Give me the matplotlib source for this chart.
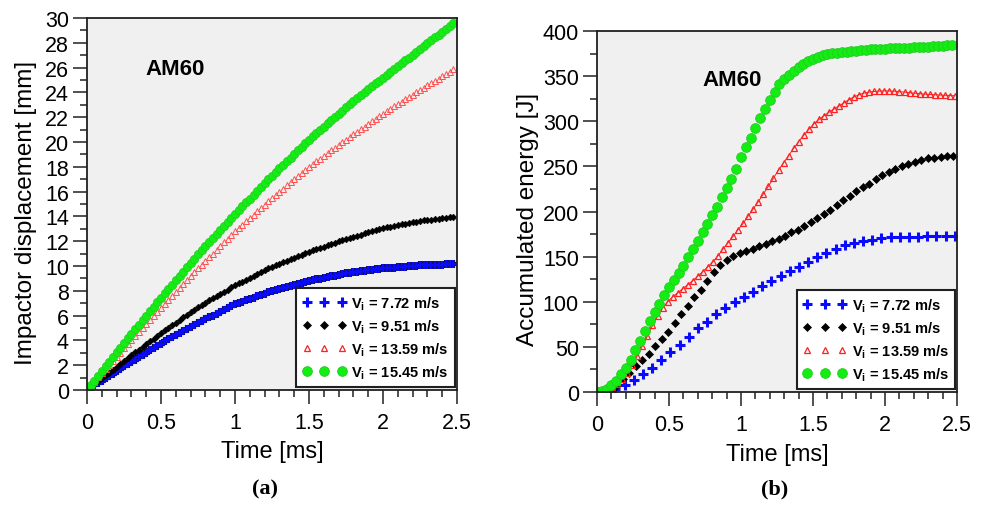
import numpy as np
import matplotlib
matplotlib.use("Agg")
import matplotlib.pyplot as plt
from matplotlib.ticker import MultipleLocator
from matplotlib.lines import Line2D

plt.rcParams['font.family'] = ['Liberation Sans', 'DejaVu Sans']
plt.rcParams['mathtext.fontset'] = 'custom'
plt.rcParams['mathtext.rm'] = 'Liberation Sans'
plt.rcParams['mathtext.bf'] = 'Liberation Sans:bold'

# (a) impactor displacement [mm], sampled every 0.025 ms from t = 0
dt_disp = 0.025
disp_772 = [0.00, 0.19, 0.38, 0.57, 0.76, 0.95, 1.14, 1.33, 1.52, 1.71, 1.90,
            2.09, 2.27, 2.46, 2.64, 2.83, 3.01, 3.20, 3.38, 3.57, 3.75,
            3.92, 4.08, 4.25, 4.41, 4.58, 4.74, 4.91, 5.07, 5.24, 5.40,
            5.55, 5.70, 5.85, 6.00, 6.15, 6.30, 6.45, 6.60, 6.75, 6.90,
            7.01, 7.12, 7.23, 7.34, 7.45, 7.56, 7.67, 7.78, 7.89, 8.00,
            8.08, 8.16, 8.24, 8.32, 8.40, 8.48, 8.56, 8.64, 8.72, 8.80,
            8.86, 8.92, 8.98, 9.04, 9.10, 9.16, 9.22, 9.28, 9.34, 9.40,
            9.44, 9.48, 9.52, 9.56, 9.60, 9.64, 9.68, 9.72, 9.76, 9.80,
            9.83, 9.85, 9.88, 9.90, 9.93, 9.95, 9.98, 10.00, 10.03, 10.05,
            10.06, 10.07, 10.08, 10.09, 10.10, 10.12, 10.13, 10.14, 10.15]
disp_951 = [0.00, 0.24, 0.47, 0.71, 0.94, 1.18, 1.41, 1.65, 1.88, 2.12, 2.35,
            2.58, 2.80, 3.03, 3.25, 3.48, 3.70, 3.93, 4.15, 4.38, 4.60,
            4.81, 5.02, 5.23, 5.44, 5.65, 5.86, 6.07, 6.28, 6.49, 6.70,
            6.88, 7.05, 7.23, 7.40, 7.58, 7.75, 7.93, 8.10, 8.28, 8.45,
            8.60, 8.75, 8.90, 9.05, 9.20, 9.35, 9.50, 9.65, 9.80, 9.95,
            10.07, 10.19, 10.31, 10.43, 10.55, 10.67, 10.79, 10.91, 11.03, 11.15,
            11.26, 11.36, 11.47, 11.57, 11.68, 11.78, 11.89, 11.99, 12.10, 12.20,
            12.29, 12.37, 12.46, 12.54, 12.63, 12.71, 12.80, 12.88, 12.97, 13.05,
            13.11, 13.17, 13.23, 13.29, 13.35, 13.41, 13.47, 13.53, 13.59, 13.65,
            13.68, 13.72, 13.75, 13.78, 13.82, 13.85, 13.88, 13.92, 13.95]
disp_1359 = [0.00, 0.34, 0.67, 1.01, 1.34, 1.68, 2.01, 2.35, 2.68, 3.02, 3.35,
             3.68, 4.01, 4.34, 4.67, 5.00, 5.33, 5.66, 5.99, 6.32, 6.65,
             6.97, 7.28, 7.60, 7.91, 8.23, 8.54, 8.86, 9.17, 9.49, 9.80,
             10.10, 10.40, 10.70, 11.00, 11.30, 11.60, 11.90, 12.20, 12.50, 12.80,
             13.07, 13.34, 13.61, 13.88, 14.15, 14.42, 14.69, 14.96, 15.23, 15.50,
             15.75, 16.00, 16.25, 16.50, 16.75, 17.00, 17.25, 17.50, 17.75, 18.00,
             18.22, 18.44, 18.66, 18.88, 19.10, 19.32, 19.54, 19.76, 19.98, 20.20,
             20.41, 20.62, 20.83, 21.04, 21.25, 21.46, 21.67, 21.88, 22.09, 22.30,
             22.49, 22.68, 22.87, 23.06, 23.25, 23.44, 23.63, 23.82, 24.01, 24.20,
             24.38, 24.57, 24.75, 24.93, 25.12, 25.30, 25.48, 25.67, 25.85]
disp_1545 = [0.00, 0.38, 0.76, 1.14, 1.52, 1.90, 2.28, 2.66, 3.04, 3.42, 3.80,
             4.17, 4.53, 4.90, 5.26, 5.63, 5.99, 6.36, 6.72, 7.09, 7.45,
             7.80, 8.15, 8.50, 8.85, 9.20, 9.55, 9.90, 10.25, 10.60, 10.95,
             11.28, 11.60, 11.93, 12.25, 12.58, 12.90, 13.23, 13.55, 13.88, 14.20,
             14.51, 14.82, 15.13, 15.44, 15.75, 16.06, 16.37, 16.68, 16.99, 17.30,
             17.59, 17.88, 18.17, 18.46, 18.75, 19.04, 19.33, 19.62, 19.91, 20.20,
             20.46, 20.72, 20.98, 21.24, 21.50, 21.76, 22.02, 22.28, 22.54, 22.80,
             23.04, 23.28, 23.52, 23.76, 24.00, 24.24, 24.48, 24.72, 24.96, 25.20,
             25.43, 25.66, 25.89, 26.12, 26.35, 26.58, 26.81, 27.04, 27.27, 27.50,
             27.73, 27.97, 28.20, 28.43, 28.67, 28.90, 29.13, 29.37, 29.60]

# (b) accumulated energy [J], each series with its own sampling step [ms]
dt_e772 = 0.0637
energy_772 = [0, 0, 3, 7.5, 13, 20, 27, 35.8, 44, 52,
              61.3, 70.8, 78.1, 86.5, 93, 99.5, 105.8, 111.3, 117.4, 122.5,
              128.1, 133.6, 138.4, 143.8, 149.5, 154, 158.7, 162.4, 165, 167.2,
              168.8, 170.5, 171.3, 171.7, 172, 172.1, 172.4, 172.5, 172.5, 172.5]
dt_e951 = 0.045
energy_951 = [0, 0, 2, 7, 14, 21, 28.5, 35, 42.5, 50.5,
              58.5, 67, 76.5, 86, 95.5, 105, 113.5, 123, 132.5, 140.5,
              146.5, 150.5, 153.5, 156.5, 159, 161.8, 164.5, 167.2, 170, 173.3,
              176.8, 179.8, 183.5, 188.2, 192.6, 197.2, 202.2, 207, 212.4, 217.7,
              222.4, 226.7, 231, 235.7, 240.1, 243.8, 247.5, 250.5, 253, 255.3,
              257.3, 258.8, 259.8, 260.5, 261, 261.2]
dt_e1359 = 0.035
energy_1359 = [0, 0.5, 2, 5, 9, 14, 21, 30, 40, 51,
               62, 74, 84, 93, 100, 105.5, 110, 114.5, 119, 123.5,
               128.5, 133.5, 139, 144.5, 151, 158.5, 165.5, 172.5, 180, 187,
               195, 203, 211, 219.5, 228, 237, 246, 254, 262, 270,
               277.5, 284.5, 291, 297, 302, 306, 310, 313.5, 317, 320.5,
               324, 327, 329.5, 331.3, 332.4, 333.1, 333.5, 333.7, 333.6, 333.3,
               332.8, 332.3, 331.7, 331.1, 330.6, 330.1, 329.7, 329.4, 329.1, 328.8,
               328.5, 328.3]
dt_e1545 = 1.0 / 30
energy_1545 = [0, 0.8, 3.4, 7.4, 12.3, 19.5, 26.5, 35.5, 46, 56.5,
               67.5, 79, 88.5, 97.5, 107.5, 116, 124, 132, 140, 150,
               158.5, 167.5, 177, 186, 196, 205.5, 216, 226, 236, 247,
               260, 271, 282, 293, 304, 314, 324, 332.5, 341, 346.5,
               351.5, 356, 360, 363.5, 366.5, 369, 371.3, 373, 374.2, 375.1,
               375.8, 376.5, 377.1, 377.6, 378.1, 378.6, 379.1, 379.6, 380, 380.3,
               380.5, 380.7, 380.9, 381.1, 381.3, 381.6, 381.9, 382.2, 382.5, 382.8,
               383.1, 383.4, 383.8, 384.2, 384.7]

labels = [r'V$_\mathbf{i}$ = 7.72 m/s', r'V$_\mathbf{i}$ = 9.51 m/s',
          r'V$_\mathbf{i}$ = 13.59 m/s', r'V$_\mathbf{i}$ = 15.45 m/s']

BLUE = '#0a0aff'
NAVY = '#101070'
GREEN = '#12ee12'
GREEN_EDGE = '#28c828'
RED = '#ff2020'
BG = '#f0f0f0'


def t_of(vals, dt):
    return np.arange(len(vals)) * dt


def style_axes(ax, ymax, ymajor, yminor):
    ax.set_facecolor(BG)
    ax.set_xlim(0, 2.5)
    ax.set_ylim(0, ymax)
    ax.xaxis.set_major_locator(MultipleLocator(0.5))
    ax.xaxis.set_minor_locator(MultipleLocator(0.1))
    ax.yaxis.set_major_locator(MultipleLocator(ymajor))
    ax.yaxis.set_minor_locator(MultipleLocator(yminor))
    ax.tick_params(which='both', direction='out', top=False, right=False, width=1.1, color='#202020')
    ax.tick_params(which='major', length=10, labelsize=15.5)
    ax.tick_params(axis='x', which='major', pad=6)
    ax.tick_params(axis='y', which='major', pad=3)
    ax.tick_params(which='minor', length=5)
    for s in ax.spines.values():
        s.set_linewidth(1.3)
        s.set_color('#202020')
    ax.xaxis.set_major_formatter(plt.FuncFormatter(lambda v, p: '%g' % v))


def legend_handles():
    return [
        Line2D([], [], ls='none', marker='+', ms=7, mew=2.2, color=BLUE),
        Line2D([], [], ls='none', marker='D', ms=4.2, mew=0.5, color='black'),
        Line2D([], [], ls='none', marker='^', ms=5, mew=0.9, mfc='none', mec=RED),
        Line2D([], [], ls='none', marker='o', ms=7, mew=0.6, mfc=GREEN, mec=GREEN_EDGE),
    ]


def add_legend(ax):
    leg = ax.legend(legend_handles(), labels, loc='lower right', bbox_to_anchor=(0.994, 0.008),
                    borderaxespad=0, numpoints=3, handlelength=3.0, handletextpad=0.35,
                    borderpad=0.42, labelspacing=0.36, fancybox=False, framealpha=1,
                    edgecolor='#202020', prop={'weight': 'bold', 'size': 10.5})
    leg.get_frame().set_linewidth(1.5)


fig = plt.figure(figsize=(9.88, 5.10), dpi=100)
ax1 = fig.add_axes([0.0881, 0.2333, 0.3745, 0.7294])
ax2 = fig.add_axes([0.6043, 0.2294, 0.3644, 0.7078])

# panel (a)
t772 = t_of(disp_772, dt_disp)
ax1.plot(t772, disp_772, ls='none', marker='+', ms=6.4, mew=3.0, color=NAVY)
ax1.plot(t772, disp_772, ls='none', marker='+', ms=5.6, mew=1.5, color=BLUE)
ax1.plot(t_of(disp_951, dt_disp), disp_951, ls='none', marker='D', ms=3.4, mew=0.4, color='black')
ax1.plot(t_of(disp_1359, dt_disp), disp_1359, ls='none', marker='^', ms=4.6, mew=0.7, mfc='none', mec='#ff5050')
ax1.plot(t_of(disp_1545, dt_disp), disp_1545, ls='none', marker='o', ms=6, mew=0.5, mfc=GREEN, mec=GREEN_EDGE)
style_axes(ax1, 30, 2, 1)
ax1.set_xlabel('Time [ms]', fontsize=17)
ax1.set_ylabel('Impactor displacement [mm]', fontsize=17.5)
ax1.xaxis.set_label_coords(0.5, -0.135)
ax1.yaxis.set_label_coords(-0.135, 0.48)
ax1.text(0.395, 25.9, 'AM60', fontsize=16, fontweight='bold', va='center', ha='left')
add_legend(ax1)

# panel (b)
ax2.plot(t_of(energy_772, dt_e772), energy_772, ls='none', marker='+', ms=7, mew=2.2, color=BLUE)
ax2.plot(t_of(energy_951, dt_e951), energy_951, ls='none', marker='D', ms=4.2, mew=0.5, color='black')
ax2.plot(t_of(energy_1359, dt_e1359), energy_1359, ls='-', lw=0.7, marker='^', ms=5, mew=0.9,
         mfc='none', mec=RED, color=RED)
ax2.plot(t_of(energy_1545, dt_e1545), energy_1545, ls='none', marker='o', ms=7, mew=0.6, mfc=GREEN, mec=GREEN_EDGE)
style_axes(ax2, 400, 50, 25)
ax2.set_xlabel('Time [ms]', fontsize=17)
ax2.set_ylabel('Accumulated energy [J]', fontsize=17.5)
ax2.xaxis.set_label_coords(0.5, -0.14)
ax2.yaxis.set_label_coords(-0.16, 0.48)
ax2.text(0.734, 346.8, 'AM60', fontsize=16, fontweight='bold', va='center', ha='left')
add_legend(ax2)

fig.text(265 / 988, 0.04, '(a)', fontsize=16, fontweight='bold', family=['Liberation Serif', 'DejaVu Serif'],
         ha='center', va='center')
fig.text(775 / 988, 0.04, '(b)', fontsize=16, fontweight='bold', family=['Liberation Serif', 'DejaVu Serif'],
         ha='center', va='center')

fig.savefig('out.png', dpi=100)
